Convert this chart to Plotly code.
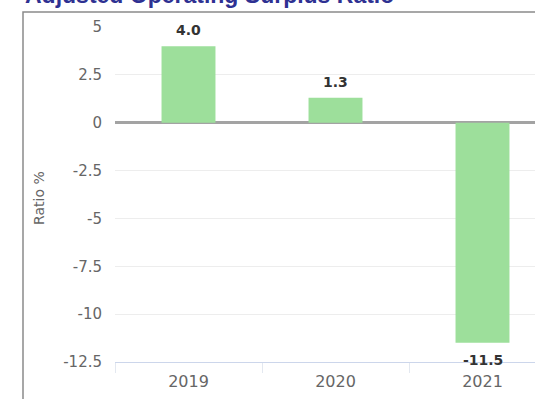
import plotly.graph_objects as go

# Chart data
years = ["2019", "2020", "2021"]
ratio_pct = [4.0, 1.3, -11.5]
y_tick_values = [5, 2.5, 0, -2.5, -5, -7.5, -10, -12.5]
y_tick_labels = ["5", "2.5", "0", "-2.5", "-5", "-7.5", "-10", "-12.5"]

W, H = 535, 399
ML, MR, MT, MB = 115, 0, 27, 37
PW, PH = W - ML - MR, H - MT - MB


def px_x(px):
    return (px - ML) / PW


def px_y(py):
    return 1 - (py - MT) / PH


fig = go.Figure(
    go.Bar(
        x=years,
        y=ratio_pct,
        marker=dict(color="#9ddf9b", line=dict(width=0)),
        hoverinfo="x+y",
    )
)

# Value labels above / below each bar (x given as category index)
for i, v in enumerate(ratio_pct):
    fig.add_annotation(
        x=i, y=v, xref="x", yref="y",
        text=f"<b>{v:.1f}</b>", showarrow=False,
        yanchor="middle", xanchor="center",
        yshift=16 if v >= 0 else -17,
        font=dict(family="DejaVu Sans", size=14, color="#333333"),
    )

# Chart title
fig.add_annotation(
    x=px_x(23), y=px_y(10), xref="paper", yref="paper",
    text="<b>Adjusted Operating Surplus Ratio</b>", showarrow=False,
    xanchor="left", yanchor="bottom",
    font=dict(family="Liberation Sans", size=23, color="#2e3192"),
)

# Y axis title
fig.add_annotation(
    x=px_x(39), y=px_y(198), xref="paper", yref="paper",
    text="Ratio %", showarrow=False, textangle=-90,
    xanchor="center", yanchor="middle",
    font=dict(family="DejaVu Sans", size=14, color="#666666"),
)

# Outer chart frame
fig.add_shape(
    type="rect", xref="paper", yref="paper",
    x0=px_x(23), x1=px_x(560), y0=px_y(420), y1=px_y(12),
    line=dict(color="#8a8a8a", width=1.5), fillcolor="rgba(0,0,0,0)", layer="above",
)

fig.update_layout(
    width=W, height=H,
    margin=dict(l=ML, r=MR, t=MT, b=MB, pad=0),
    paper_bgcolor="white", plot_bgcolor="white",
    showlegend=False,
    bargap=0.633,
    font=dict(family="DejaVu Sans", color="#666666"),
    xaxis=dict(
        type="category",
        range=[-0.5, -0.5 + PW / 147.0],
        tickson="boundaries",
        ticks="outside", ticklen=10, tickcolor="#e3e8f0",
        showline=True, linecolor="#ccd6eb", linewidth=1,
        showgrid=False, zeroline=False,
        ticklabelstandoff=5,
        tickfont=dict(family="DejaVu Sans", size=16, color="#666666"),
    ),
    yaxis=dict(
        range=[-12.5, 5],
        tickvals=y_tick_values, ticktext=y_tick_labels,
        showgrid=True, gridcolor="#ededed", gridwidth=1,
        zeroline=True, zerolinecolor="#a3a3a3", zerolinewidth=3,
        showline=False, ticks="",
        ticklabelstandoff=12,
        tickfont=dict(family="DejaVu Sans", size=15, color="#666666"),
    ),
)

fig.write_html("out.html")
